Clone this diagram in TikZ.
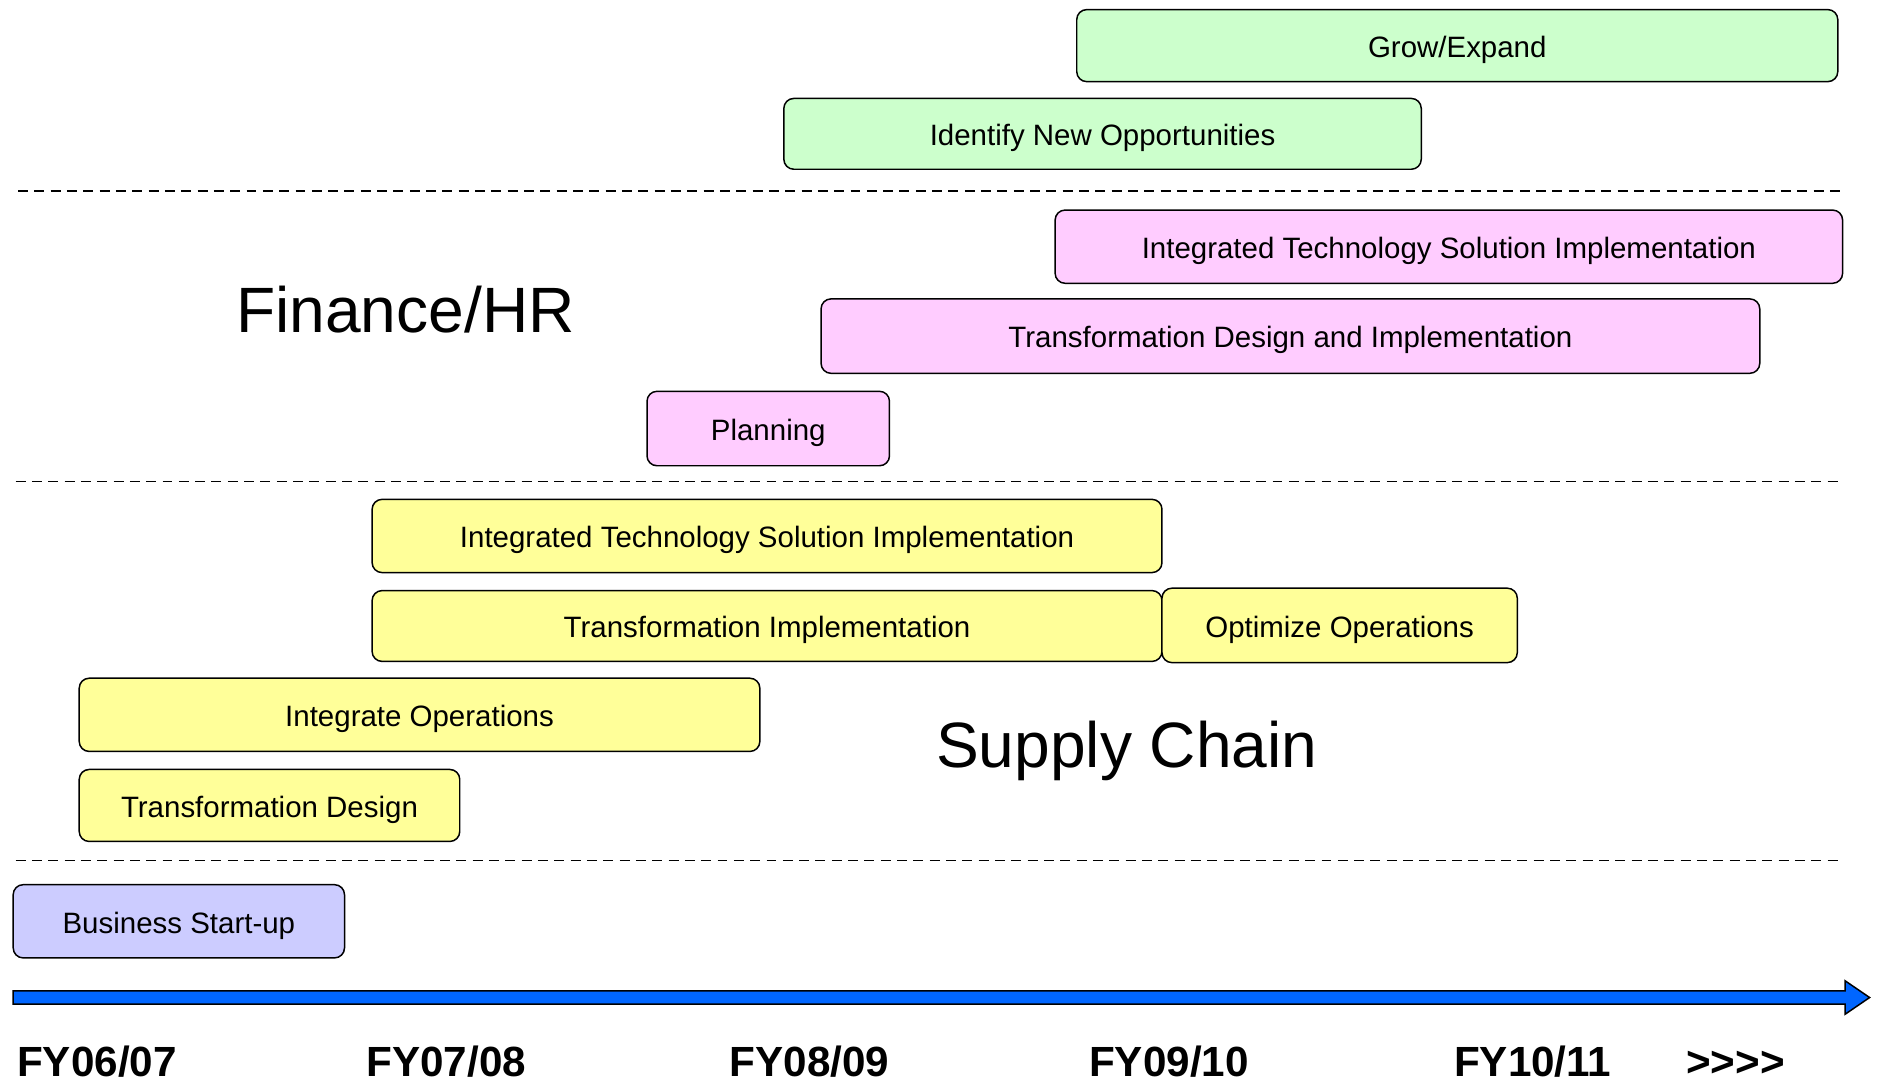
\documentclass[tikz,border=0pt]{standalone}
\usepackage{fontspec}
\setmainfont{Liberation Sans}
\definecolor{gfill}{HTML}{CCFFCC}
\definecolor{pfill}{HTML}{FFCCFF}
\definecolor{yfill}{HTML}{FFFF99}
\definecolor{bfill}{HTML}{CCCCFF}
\definecolor{arrowblue}{HTML}{0066FF}
\tikzset{
  box/.style={draw=black, line width=0.75pt, rounded corners=5pt, inner sep=0pt,
    font=\fontsize{14.8pt}{16pt}\selectfont, text=black, text height=15.2pt, text depth=3.4pt},
  sep/.style={draw=black, dash pattern=on 5pt off 3.2pt, line width=0.75pt},
  biglabel/.style={font=\fontsize{32.2pt}{34pt}\selectfont, inner sep=0pt, anchor=base west},
  fylabel/.style={font=\fontsize{21.2pt}{23pt}\selectfont\bfseries, inner sep=0pt, anchor=base west},
}
\newcommand{\tbox}[7]{\node[box, fill=#6, minimum width={(#4-#2)*0.603pt}, minimum height={(#5-#3)*0.603pt}] (#1) at ({(#2+#4)/2},{(#3+#5)/2}) {#7};}
\begin{document}
\begin{tikzpicture}[x=0.603pt, y=-0.603pt]
\useasboundingbox (0,0) rectangle (1567,902.2);
% boxes
\tbox{grow}{897}{8}{1531}{68}{gfill}{Grow/Expand}
\tbox{identify}{653}{82}{1184}{141}{gfill}{Identify New Opportunities}
\tbox{fitsi}{879}{175}{1535}{236}{pfill}{Integrated Technology Solution Implementation}
\tbox{ftdi}{684}{249}{1466}{311}{pfill}{Transformation Design and Implementation}
\tbox{plan}{539}{326}{741}{388}{pfill}{Planning}
\tbox{sitsi}{310}{416}{968}{477}{yfill}{Integrated Technology Solution Implementation}
\tbox{sti}{310}{492}{968}{551}{yfill}{Transformation Implementation}
\tbox{opt}{968}{490}{1264}{552}{yfill}{Optimize Operations}
\tbox{intop}{66}{565}{633}{626}{yfill}{Integrate Operations}
\tbox{std}{66}{641}{383}{701}{yfill}{Transformation Design}
\tbox{start}{11}{737}{287}{798}{bfill}{Business Start-up}
% separators
\coordinate (s1a) at (15,159); \coordinate (s1b) at (1537,159);
\coordinate (s2a) at (13,401); \coordinate (s2b) at (1535,401);
\coordinate (s3a) at (13,717); \coordinate (s3b) at (1535,717);
\draw[sep] (s1a) -- (s1b);
\draw[sep] (s2a) -- (s2b);
\draw[sep] (s3a) -- (s3b);
% section labels
\node[biglabel] (fin) at (196.5,277) {Finance/HR};
\node[biglabel] (sc) at (779.5,639.5) {Supply Chain};
% timeline arrow
\fill[arrowblue, draw=black, line width=0.75pt] (11,825.5) -- (1537,825.5) -- (1537,817) -- (1557.5,831) -- (1537,845) -- (1537,836.5) -- (11,836.5) -- cycle;
% FY labels
\node[fylabel] (fy1) at (14,897) {FY06/07};
\node[fylabel] (fy2) at (305,897) {FY07/08};
\node[fylabel] (fy3) at (607.5,897) {FY08/09};
\node[fylabel] (fy4) at (907,897) {FY09/10};
\node[fylabel] (fy5) at (1211,897) {FY10/11};
\node[fylabel] (more) at (1404.5,897) {{>}{>}{>}{>}};
\end{tikzpicture}
\end{document}
